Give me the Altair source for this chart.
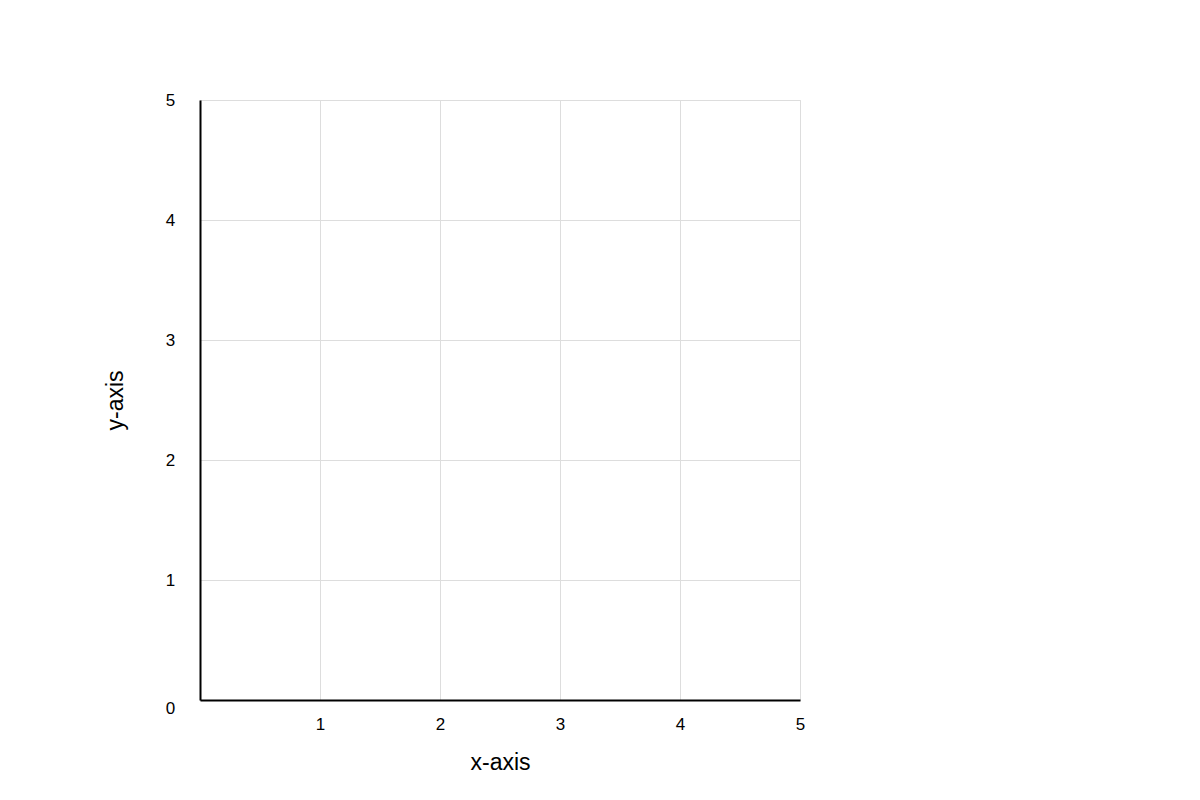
import altair as alt
import pandas as pd

x_ticks = [0, 1, 2, 3, 4, 5]
y_ticks = [0, 1, 2, 3, 4, 5]
x_domain = [0, 5]
y_domain = [0, 5]

df = pd.DataFrame({"x": x_ticks, "y": y_ticks})

font = "Liberation Sans"

chart = alt.Chart(df).mark_point(opacity=0).encode(
    x=alt.X(
        "x:Q",
        scale=alt.Scale(domain=x_domain, nice=False, zero=False),
        axis=alt.Axis(
            title="x-axis",
            values=[1, 2, 3, 4, 5],
            format="d",
            grid=True,
            gridColor="#dddddd",
            gridWidth=1,
            domainColor="black",
            domainWidth=2,
            ticks=False,
            tickSize=0,
            labelPadding=24,
            labelBaseline="middle",
            labelFont=font,
            labelFontSize=17,
            labelColor="black",
            labelFlush=False,
            titleFont=font,
            titleFontSize=23,
            titleFontWeight="normal",
            titleColor="black",
            titleX=300,
            titleY=62,
            titleBaseline="middle",
            titleAlign="center",
        ),
    ),
    y=alt.Y(
        "y:Q",
        scale=alt.Scale(domain=y_domain, nice=False, zero=False),
        axis=alt.Axis(
            title="y-axis",
            values=y_ticks,
            format="d",
            grid=True,
            gridColor="#dddddd",
            gridWidth=1,
            domainColor="black",
            domainWidth=2,
            ticks=False,
            tickSize=0,
            labelPadding=30,
            labelAlign="center",
            labelBaseline="middle",
            labelOffset={"condition": {"test": "datum.value === 0", "value": 8}, "value": 0},
            labelFont=font,
            labelFontSize=17,
            labelColor="black",
            labelFlush=False,
            titleFont=font,
            titleFontSize=23,
            titleFontWeight="normal",
            titleColor="black",
            titleX=-85,
            titleY=300,
            titleAngle=-90,
            titleBaseline="middle",
            titleAlign="center",
        ),
    ),
).properties(
    width=600,
    height=600,
    autosize=alt.AutoSizeParams(type="none"),
    padding={"left": 192, "top": 92, "right": 392, "bottom": 92},
).configure_view(
    stroke=None
).configure(
    background="white"
)

chart.save("out.html", embed_options={"renderer": "svg", "actions": False})
